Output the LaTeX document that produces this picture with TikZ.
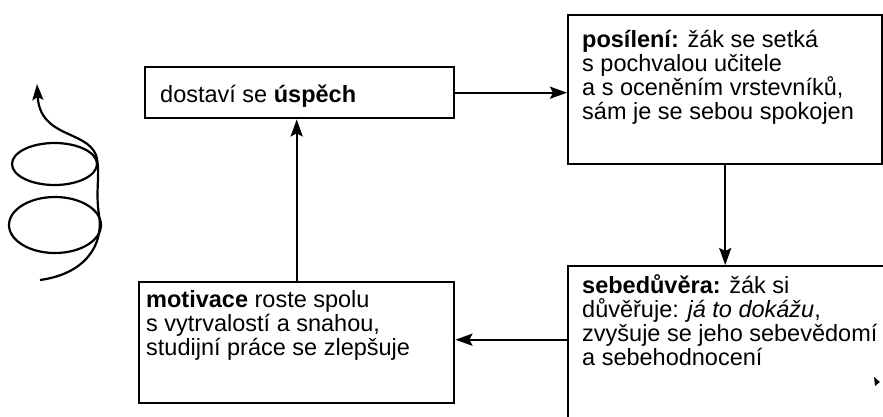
\documentclass[tikz,border=0pt]{standalone}
\usepackage{fontspec}
\setmainfont{Liberation Sans}
\usetikzlibrary{arrows.meta,calc}
\newcommand\boxfont{\fontsize{23.5}{24}\selectfont}
\newcommand\lines[1]{\vtop{\baselineskip=24pt\lineskiplimit=-10pt\lineskip=0pt #1}}
\begin{document}
\begin{tikzpicture}[x=1pt,y=-1pt,
  box/.style={draw,line width=2.4pt,inner sep=0pt,anchor=north west},
  txt/.style={inner sep=0pt,anchor=base west,font=\boxfont},
  arr/.style={line width=2.4pt,-{Stealth[length=17pt,width=12pt,inset=3pt]}},
  spiral/.style={line width=2.2pt}]
\useasboundingbox (0,0) rectangle (883,416);
\clip (0,0) rectangle (883,416);
% boxes
\node[box,minimum width=309pt,minimum height=51pt] (A) at (144,66) {};
\node[box,minimum width=314pt,minimum height=149pt] (B) at (567,14) {};
\node[box,minimum width=330pt,minimum height=160pt] (C) at (567,265) {};
\node[box,minimum width=315pt,minimum height=121pt] (D) at (138,281) {};
% texts
\node[txt] (tA) at (160,102) {dostaví se \textbf{úspěch}};
\node[txt] (tB) at (582,47) {\lines{\hbox{\textbf{posílení:} žák se setká}\hbox{s pochvalou učitele}\hbox{a s oceněním vrstevníků,}\hbox{sám je se sebou spokojen}}};
\node[txt] (tC) at (582,293) {\lines{\hbox{\textbf{sebedůvěra:} žák si}\hbox{důvěřuje: \textit{já to dokážu},}\hbox{zvyšuje se jeho sebevědomí}\hbox{a sebehodnocení}}};
\node[txt] (tD) at (146,307) {\lines{\hbox{\textbf{motivace} roste spolu}\hbox{s vytrvalostí a snahou,}\hbox{studijní práce se zlepšuje}}};
% connectors
\draw[arr] (A.east) -- (A.east -| B.west);
\draw[arr] (B.south) -- (B.south |- C.north);
\coordinate (cD) at ($(D.east)+(0,-3)$);
\draw[arr] (cD -| C.west) -- (cD);
\draw[arr] (D.north) -- (D.north |- A.south);
% spiral
\draw[spiral] (54.5,164) ellipse [x radius=42.5pt, y radius=21pt];
\draw[spiral] (55,225) ellipse [x radius=46pt, y radius=28pt];
\coordinate (sEnd) at (40,280);
\coordinate (sTip) at (37,84);
\draw[spiral,-{Stealth[length=16pt,width=11pt,inset=3pt]}] (sEnd) .. controls (85,274) and (104,245) .. (99,215)
  .. controls (95,190) and (101,172) .. (96,155)
  .. controls (86,130) and (40,138) .. (sTip);
% small mark
\fill (874,377) -- (880,382) -- (875,386) -- cycle;
\end{tikzpicture}
\end{document}
